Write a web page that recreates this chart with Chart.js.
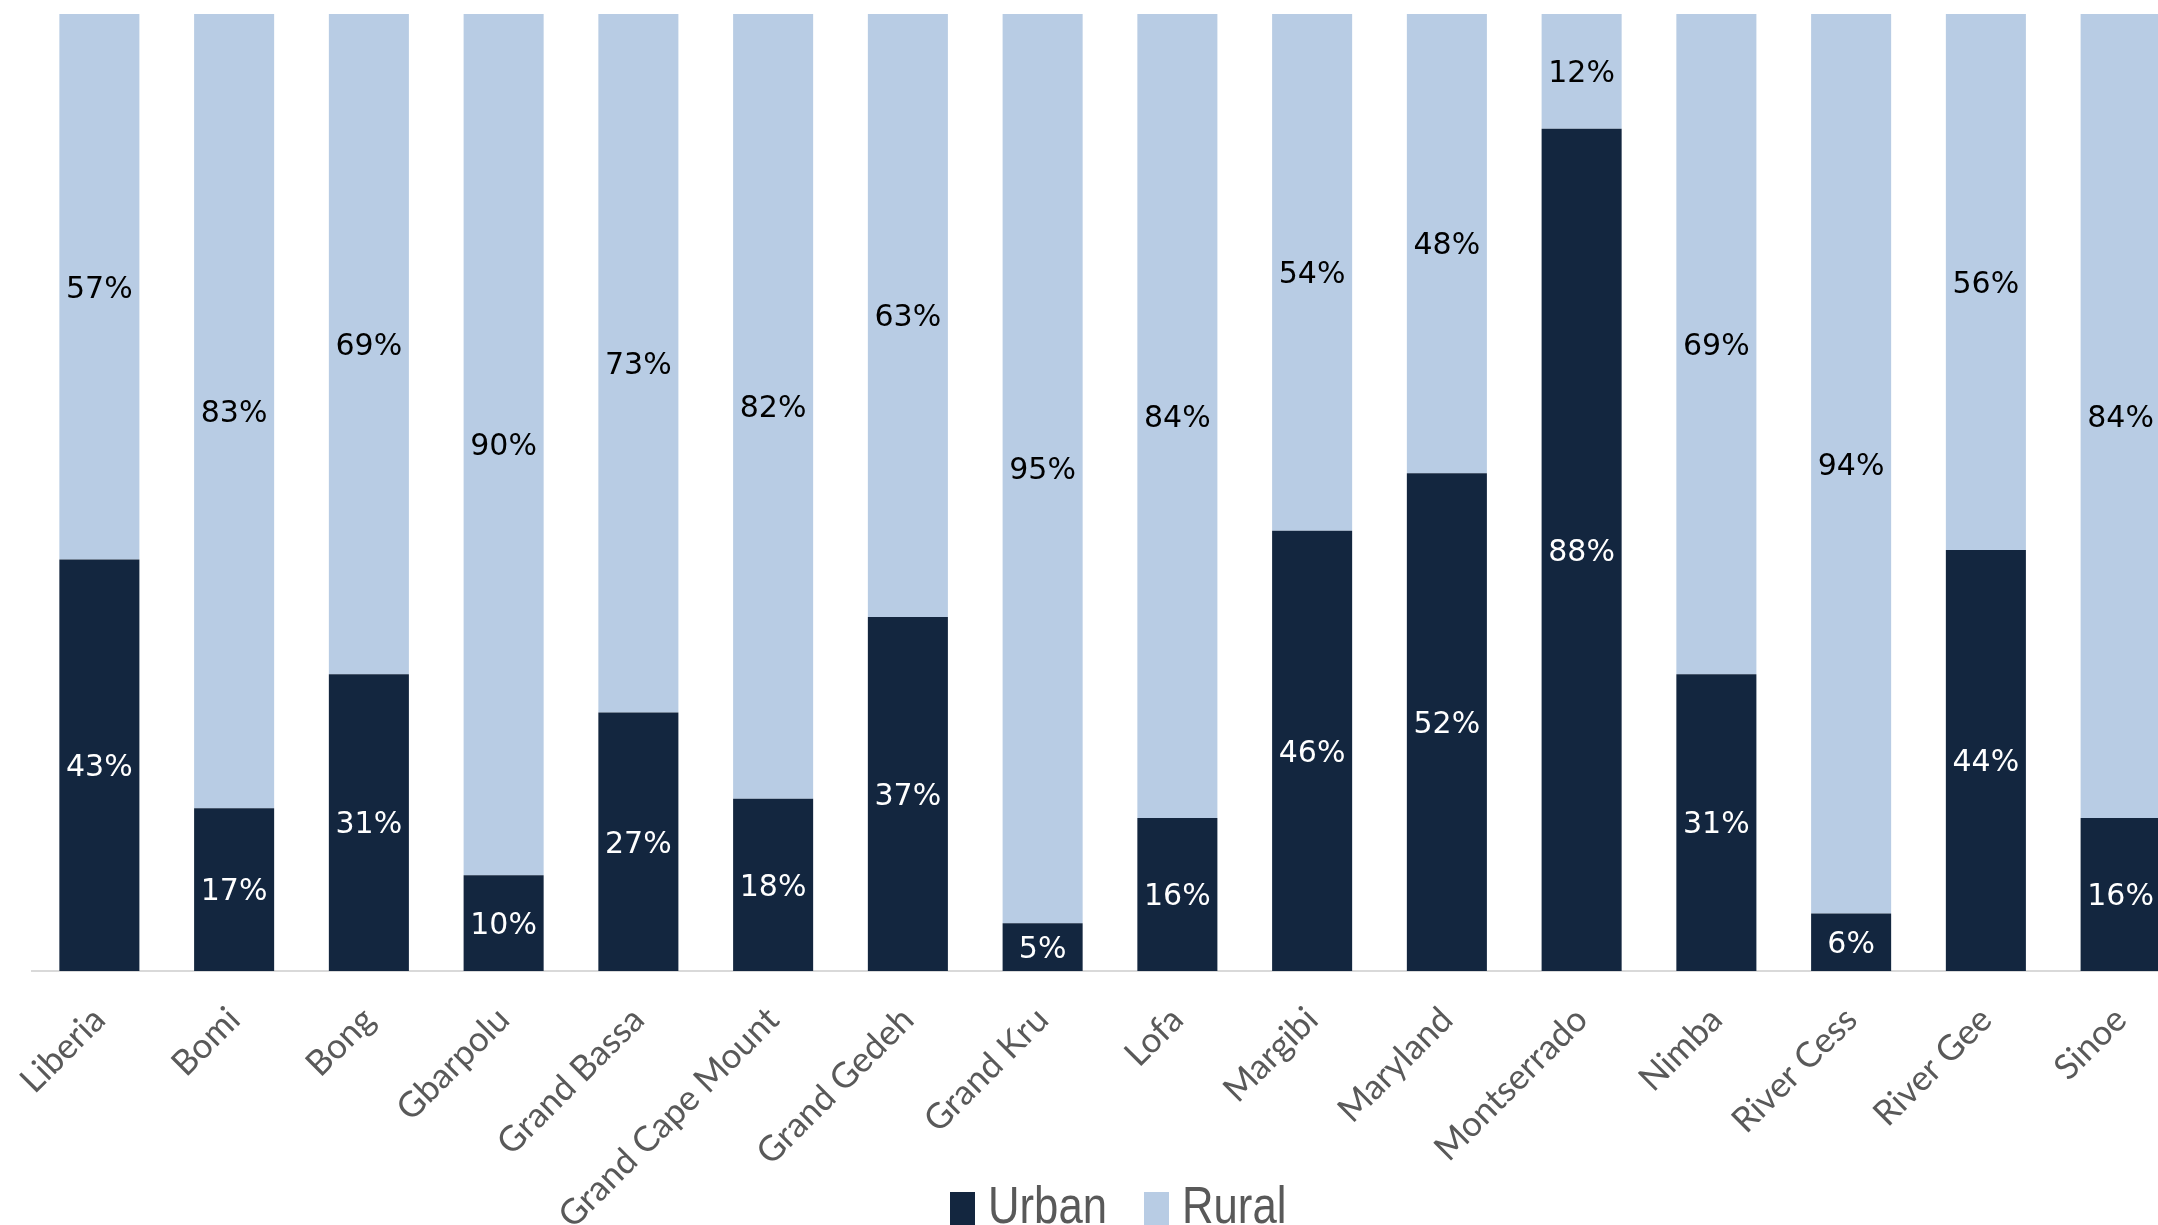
<!DOCTYPE html>
<html>
<head>
<meta charset="utf-8">
<script src="https://cdn.jsdelivr.net/npm/chart.js@4/dist/chart.umd.min.js"></script>
<style>
  html, body { margin: 0; padding: 0; background: #fff; overflow: hidden; }
  #wrap { width: 2188px; height: 1254px; position: relative; }
  .legend-item { position: absolute; top: 1179px; height: 80px; }
  .legend-box { position: absolute; left: 0; top: 13px; width: 25px; height: 40px; }
  .legend-text {
    position: absolute; left: 38px; top: 0;
    font-family: "Liberation Sans Narrow", "Liberation Sans", sans-serif;
    font-size: 52px; line-height: 52px; color: #595959;
    white-space: nowrap; transform: scaleX(0.84); transform-origin: left top;
  }
</style>
</head>
<body>
<div id="wrap"><canvas id="barChart"></canvas></div>
<script>
// counties, share of urban vs rural population (%)
var counties = ['Liberia', 'Bomi', 'Bong', 'Gbarpolu', 'Grand Bassa', 'Grand Cape Mount', 'Grand Gedeh',
  'Grand Kru', 'Lofa', 'Margibi', 'Maryland', 'Montserrado', 'Nimba', 'River Cess', 'River Gee', 'Sinoe'];
var urban = [43, 17, 31, 10, 27, 18, 37, 5, 16, 46, 52, 88, 31, 6, 44, 16];
var rural = [57, 83, 69, 90, 73, 82, 63, 95, 84, 54, 48, 12, 69, 94, 56, 84];

var urbanColor = '#13263F';
var ruralColor = '#B8CCE4';

// draws the % value in the middle of each segment
const segmentLabels = {
  id: 'segmentLabels',
  afterDatasetsDraw(chart) {
    const ctx = chart.ctx;
    ctx.save();
    ctx.font = '30px "DejaVu Sans"';
    ctx.textAlign = 'center';
    ctx.textBaseline = 'middle';
    chart.data.datasets.forEach((ds, di) => {
      const meta = chart.getDatasetMeta(di);
      meta.data.forEach((bar, i) => {
        ctx.fillStyle = di == 0 ? '#ffffff' : '#000000';
        ctx.fillText(ds.data[i] + '%', bar.x, (bar.y + bar.base) / 2 + 3);
      });
    });
    ctx.restore();
  }
};

var ctx = document.getElementById('barChart').getContext('2d');
var chart = new Chart(ctx, {
  type: 'bar',
  data: {
    labels: counties,
    datasets: [
      { label: 'Urban', data: urban, backgroundColor: urbanColor },
      { label: 'Rural', data: rural, backgroundColor: ruralColor }
    ]
  },
  options: {
    responsive: true,
    maintainAspectRatio: false,
    animation: false,
    layout: { padding: { top: 14, left: 32, right: 0, bottom: 0 } },
    datasets: { bar: { categoryPercentage: 1, barPercentage: 0.594 } },
    scales: {
      x: {
        stacked: true,
        grid: { display: false },
        border: { display: true, color: '#D9D9D9', width: 2 },
        ticks: {
          color: '#595959',
          font: { family: 'Lato', size: 35 },
          minRotation: 45,
          maxRotation: 45,
          autoSkip: false,
          padding: 20
        },
        afterFit: (scale) => { scale.height = 283; }
      },
      y: {
        stacked: true,
        display: false,
        min: 0,
        max: 100
      }
    },
    plugins: {
      tooltip: { enabled: false },
      legend: { display: false }
    }
  },
  plugins: [segmentLabels]
});

// html legend laid over the bottom of the canvas
var legendLeft = [950, 1144];
chart.data.datasets.forEach((ds, i) => {
  var item = document.createElement('div');
  item.className = 'legend-item';
  item.style.left = legendLeft[i] + 'px';
  item.innerHTML = '<div class="legend-box" style="background:' + ds.backgroundColor + '"></div>' +
    '<span class="legend-text">' + ds.label + '</span>';
  document.getElementById('wrap').appendChild(item);
});
</script>
</body>
</html>
